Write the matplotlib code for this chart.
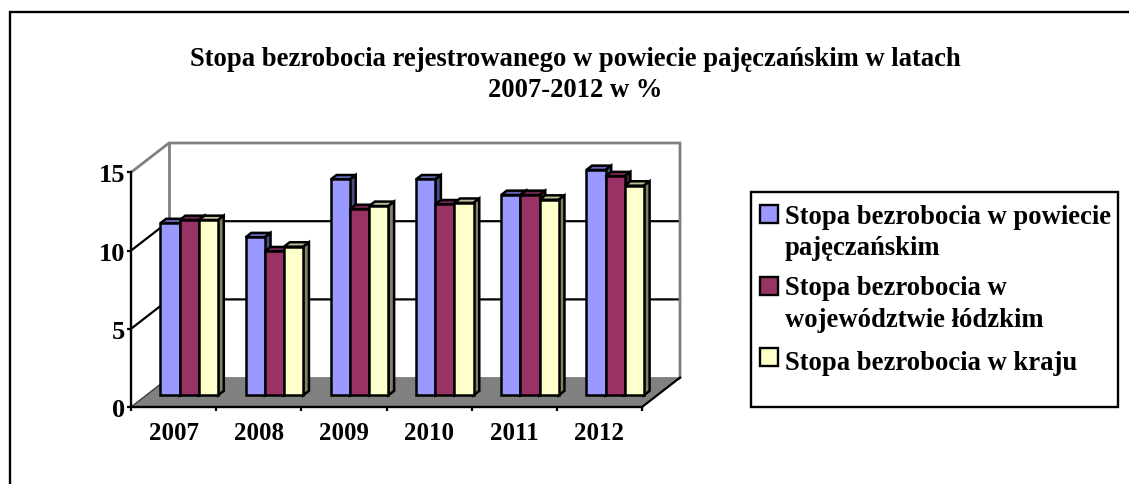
import matplotlib as mpl
mpl.use('Agg')
import matplotlib.pyplot as plt
from matplotlib.patches import Polygon, Rectangle
from matplotlib.lines import Line2D

plt.rcParams['font.family'] = ['Liberation Serif', 'DejaVu Serif']
plt.rcParams['font.weight'] = 'bold'

# data
years = ['2007', '2008', '2009', '2010', '2011', '2012']
powiat = [11.0, 10.1, 13.8, 13.8, 12.8, 14.4]
lodzkie = [11.2, 9.2, 11.9, 12.2, 12.8, 14.0]
kraj = [11.2, 9.5, 12.1, 12.3, 12.5, 13.4]
series_labels = ['Stopa bezrobocia w powiecie\npajęczańskim',
                 'Stopa bezrobocia w\nwojewództwie łódzkim',
                 'Stopa bezrobocia w kraju']
y_ticks = [0, 5, 10, 15]
title = 'Stopa bezrobocia rejestrowanego w powiecie pajęczańskim w latach\n2007-2012 w %'

front_c = ['#9999FF', '#993366', '#FFFFCC']
top_c = ['#6666B8', '#73264D', '#BFBF99']
side_c = ['#4D4D80', '#4D1A33', '#808066']

W, H = 1129, 485
fig = plt.figure(figsize=(W / 100, H / 100), dpi=100)

# pixel layout of the front plane and the depth of the box
x0, x1, y0, y15 = 131, 642, 408, 173.4
depth_px, rise_px = 38, 29.4
unit_x = (x1 - x0) / 6
unit_y = (y0 - y15) / 15
dx = depth_px / unit_x
dy = rise_px / unit_y

ax = fig.add_axes([x0 / W, 1 - y0 / H, (x1 + depth_px - x0) / W, (y0 - y15 + rise_px) / H])
ax.set_xlim(0, 6 + dx)
ax.set_ylim(0, 15 + dy)
ax.patch.set_visible(False)


def proj(x, v, d):
    return (x + d * dx, v + d * dy)


# floor and walls
ax.add_patch(Polygon([proj(0, 0, 0), proj(6, 0, 0), proj(6, 0, 1), proj(0, 0, 1)],
                     fc='#808080', ec='none', zorder=1))
for v in [5, 10]:
    ax.plot(*zip(proj(0, v, 0), proj(0, v, 1), proj(6, v, 1)), color='k', lw=1.6, zorder=1.5, clip_on=False)
ax.plot(*zip(proj(0, 15, 0), proj(0, 15, 1), proj(6, 15, 1), proj(6, 0, 1)),
        color='#808080', lw=2, zorder=1.5, solid_joinstyle='miter', clip_on=False)
ax.plot(*zip(proj(0, 15, 1), proj(0, 0, 1), proj(6, 0, 1)), color='#808080', lw=2, zorder=1.5)
ax.plot(*zip(proj(0, 0, 0), proj(0, 0, 1)), color='#404040', lw=1, zorder=1.6)
ax.plot(*zip(proj(6, 0, 0), proj(6, 0, 1)), color='k', lw=1.6, zorder=1.6, clip_on=False)

# bars
bar_w = 19.2 / unit_x
d0, d1 = 0.40, 0.55
z = 3
for i, year in enumerate(years):
    start = i + (85.17 - 57.6 + 1) / 2 / unit_x
    for j, vals in enumerate([powiat, lodzkie, kraj]):
        l, r, v = start + j * bar_w, start + (j + 1) * bar_w, vals[i]
        top = [proj(l, v, d0), proj(r, v, d0), proj(r, v, d1), proj(l, v, d1)]
        side = [proj(r, 0, d0), proj(r, 0, d1), proj(r, v, d1), proj(r, v, d0)]
        front = [proj(l, 0, d0), proj(r, 0, d0), proj(r, v, d0), proj(l, v, d0)]
        for pts, c in [(top, top_c[j]), (side, side_c[j]), (front, front_c[j])]:
            ax.add_patch(Polygon(pts, fc=c, ec='k', lw=1.8, joinstyle='miter', zorder=z))
            z += 0.01

# axes
for s in ['top', 'right']:
    ax.spines[s].set_visible(False)
ax.spines['left'].set_bounds(0, 15)
ax.spines['bottom'].set_bounds(0, 6)
ax.spines['left'].set_linewidth(1.7)
ax.spines['bottom'].set_linewidth(1.7)
ax.spines['left'].set_zorder(10)
ax.spines['bottom'].set_zorder(10)
ax.set_yticks(y_ticks)
ax.tick_params(axis='y', labelsize=19, length=3, width=1.6, pad=1)
ax.set_xticks(range(7))
ax.set_xticklabels([])
ax.set_xticks([i + 0.5 for i in range(6)], years, minor=True)
ax.tick_params(axis='x', which='major', length=3, width=1.6)
ax.tick_params(axis='x', which='minor', length=0, labelsize=18, pad=10)

fig.text(575 / W, 1 - 75 / H, title, ha='center', va='center', fontsize=19.2, linespacing=1.36)

# legend box
fig.add_artist(Rectangle((751 / W, 1 - 408 / H), (1118 - 751) / W, (408 - 193) / H,
                         transform=fig.transFigure, fc='white', ec='k', lw=1.7))
handle_y = [215, 287, 358]
label_top = [204.5, 276, 351]
for label, c, hy, ty in zip(series_labels, front_c, handle_y, label_top):
    fig.add_artist(Rectangle((760 / W, 1 - (hy + 9) / H), 18 / W, 18 / H,
                             transform=fig.transFigure, fc=c, ec='k', lw=1.7))
    fig.text(785 / W, 1 - ty / H, label, ha='left', va='top', fontsize=19.2, linespacing=1.36)

# outer frame, open on the right and at the bottom
fig.add_artist(Line2D([10 / W, 10 / W, 1], [0, 1 - 12.5 / H, 1 - 12.5 / H], transform=fig.transFigure,
                      color='k', lw=1.7, solid_joinstyle='miter'))

fig.savefig('out.png', dpi=100)
